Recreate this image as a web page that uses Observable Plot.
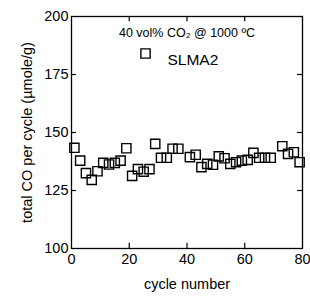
<!DOCTYPE html>
<html><head><meta charset="utf-8">
<script src="https://cdn.jsdelivr.net/npm/d3@7"></script>
<script src="https://cdn.jsdelivr.net/npm/@observablehq/plot@0.6"></script>
<style>body{margin:0;background:#fff;} svg{font-family:"Liberation Sans",Arial,sans-serif;}</style>
</head><body><div id="chart"></div>
<script>
const cycles = [1,3,5,7,9,11,13,15,17,19,21,23,25,27,29,31,33,35,37,41,43,45,47,49,51,53,55,57,59,61,63,65,67,69,73,75,77,79];
const totalCO = [143.4,137.9,132.5,129.6,133.3,136.9,136.2,136.9,137.9,143.2,131.3,134.2,133.1,134.2,145.1,139.1,139.1,143.0,143.0,139.4,140.4,135.1,136.5,136.1,139.7,138.9,136.5,137.2,137.9,138.2,141.2,139.1,139.1,139.1,144.1,140.8,141.5,137.2];
const xTicks = [0,20,40,60,80];
const yTicks = [100,125,150,175,200];
const innerX = [20,40,60];
const innerY = [125,150,175];
const seriesName = "SLMA2";
const conditionLabel = "40 vol% CO\u2082 @ 1000 \u00baC";

const data = cycles.map((c,i)=>({cycle:c, co:totalCO[i]}));

const chart = Plot.plot({
  width: 310, height: 296,
  marginLeft: 71, marginRight: 8, marginTop: 16, marginBottom: 48,
  style: {fontFamily: '"Liberation Sans", Arial, sans-serif', background: "#fff"},
  x: {domain: [0,80]},
  y: {domain: [100,200]},
  marks: [
    Plot.frame({stroke: "#000", strokeWidth: 1.3}),
    Plot.ruleX(innerX, {x: d=>d, y1: 100, y2: 102.3, stroke: "#000", strokeWidth: 1.2}),
    Plot.ruleX(innerX, {x: d=>d, y1: 200, y2: 197.7, stroke: "#000", strokeWidth: 1.2}),
    Plot.ruleY(innerY, {y: d=>d, x1: 0, x2: 1.7, stroke: "#000", strokeWidth: 1.2}),
    Plot.ruleY(innerY, {y: d=>d, x1: 80, x2: 78.3, stroke: "#000", strokeWidth: 1.2}),
    Plot.axisX({ticks: xTicks, tickSize: 0, tickPadding: 5, fontSize: 14.5, label: "cycle number", labelAnchor: "center", labelArrow: "none", labelOffset: 40, fill: "#000"}),
    Plot.axisY({ticks: yTicks, tickSize: 0, tickPadding: 3, fontSize: 14.5, label: "total CO per cycle (\u00b5mole/g)", labelAnchor: "center", labelArrow: "none", labelOffset: 50, fill: "#000"}),
    Plot.dot(data, {x: "cycle", y: "co", symbol: "square", r: 5.2, stroke: "#000", strokeWidth: 1.4, fill: "none"}),
    Plot.text([conditionLabel], {text: d=>d, frameAnchor: "top", dx: 0, dy: 12, fontSize: 12.5, fill: "#000"}),
    Plot.dot([seriesName], {frameAnchor: "top-left", dx: 74, dy: 37, symbol: "square", r: 5.2, stroke: "#000", strokeWidth: 1.4, fill: "none"}),
    Plot.text([seriesName], {text: d=>d, frameAnchor: "top-left", dx: 96, dy: 37, textAnchor: "start", fontSize: 15.5, fill: "#000"})
  ]
});
document.getElementById("chart").appendChild(chart);
</script></body></html>
